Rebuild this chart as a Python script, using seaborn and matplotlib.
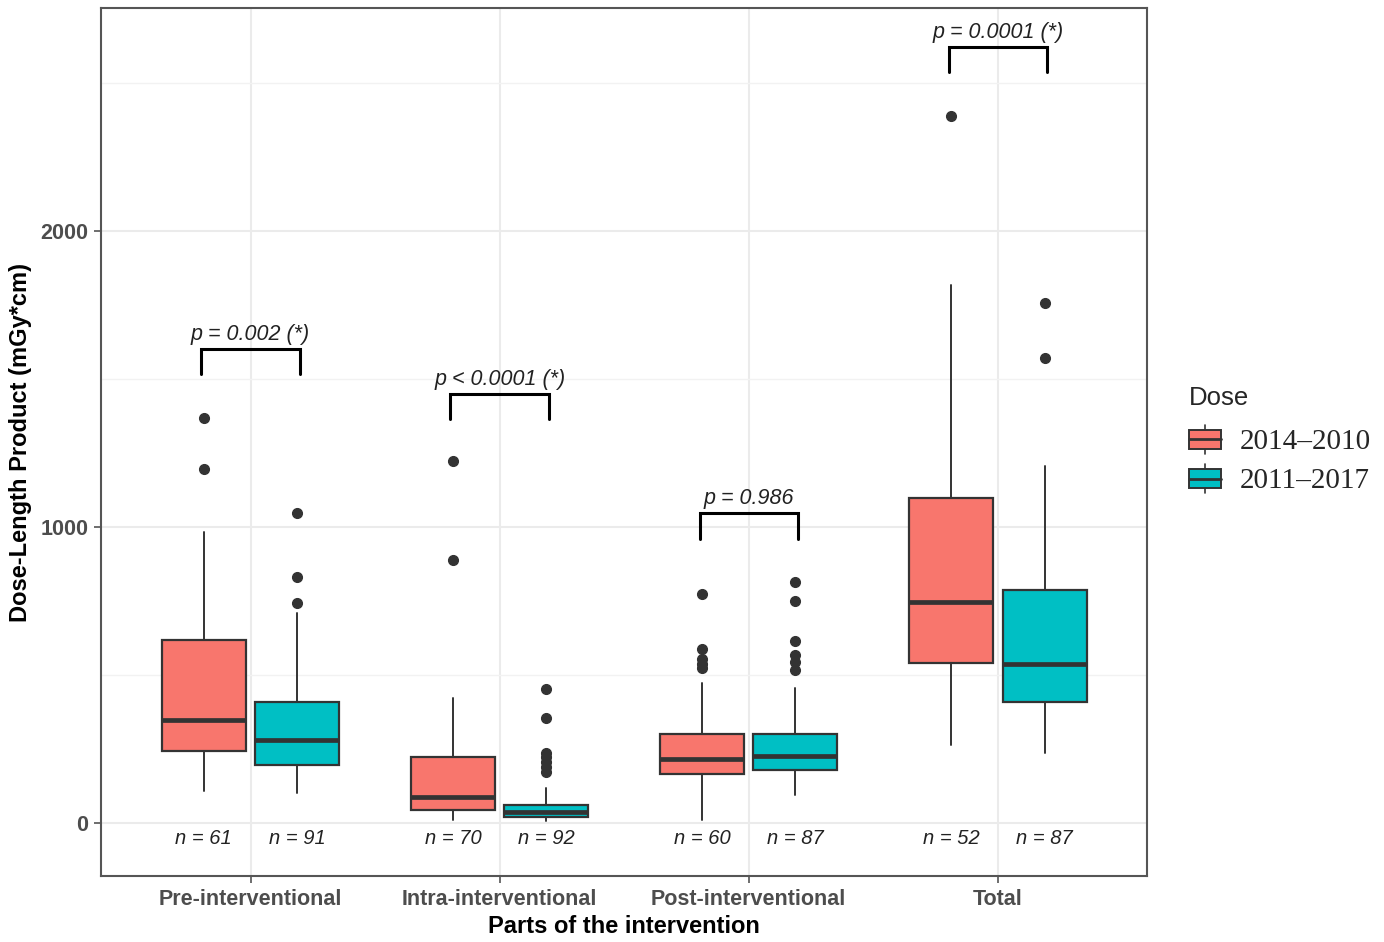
import matplotlib
matplotlib.use("Agg")
import matplotlib.pyplot as plt
import seaborn as sns
from matplotlib.legend_handler import HandlerBase
from matplotlib.patches import Rectangle, Patch
from matplotlib.lines import Line2D

# categories
parts = ["Pre-interventional", "Intra-interventional", "Post-interventional", "Total"]
doses = ["2014–2010", "2011–2017"]

# box summaries (mGy*cm), 2014-2010 group
lo_old = [108, 10, 8, 264]
q1_old = [243, 45, 166, 542]
med_old = [348, 87, 216, 748]
q3_old = [618, 224, 301, 1097]
hi_old = [985, 421, 472, 1818]
out_old = [[1368, 1196], [1223, 888], [773, 587, 553, 538, 524], [2390]]

# 2011-2017 group
lo_new = [100, 5, 95, 235]
q1_new = [195, 19, 177, 408]
med_new = [280, 38, 226, 537]
q3_new = [408, 61, 301, 787]
hi_new = [711, 117, 457, 1207]
out_new = [[1046, 832, 744], [451, 354, 236, 222, 206, 190, 172],
           [815, 750, 616, 568, 545, 517], [1758, 1570]]

n_old = [61, 70, 60, 52]
n_new = [91, 92, 87, 87]
p_labels = ["p = 0.002 (*)", "p < 0.0001 (*)", "p = 0.986", "p = 0.0001 (*)"]
bracket_y = [1601, 1451, 1046, 2622]

colors = {"2014–2010": "#F8766D", "2011–2017": "#00BFC4"}
edge = "#333333"

sns.set_theme(style="whitegrid")
plt.rcParams["font.family"] = ["Liberation Sans", "DejaVu Sans"]

fig = plt.figure(figsize=(13.84, 9.42), dpi=100)
ax = fig.add_axes([0.073, 0.07, 0.756, 0.9215])

dodge = 0.1875
width = 0.3375


def make_stats(lo, q1, med, q3, hi, out):
    return [dict(whislo=a, q1=b, med=c, q3=d, whishi=e, fliers=f)
            for a, b, c, d, e, f in zip(lo, q1, med, q3, hi, out)]


groups = {
    "2014–2010": (make_stats(lo_old, q1_old, med_old, q3_old, hi_old, out_old), -dodge),
    "2011–2017": (make_stats(lo_new, q1_new, med_new, q3_new, hi_new, out_new), dodge),
}

for dose, (stats, off) in groups.items():
    ax.bxp(stats, positions=[i + off for i in range(len(parts))], widths=width,
           patch_artist=True, showcaps=False,
           boxprops=dict(facecolor=colors[dose], edgecolor=edge, linewidth=1.6),
           medianprops=dict(color=edge, linewidth=3.4),
           whiskerprops=dict(color=edge, linewidth=1.4),
           flierprops=dict(marker="o", markerfacecolor=edge, markeredgecolor=edge,
                           markersize=7, linestyle="none"),
           zorder=3)

# sample sizes under each box
for i in range(len(parts)):
    for off, n in ((-dodge, n_old[i]), (dodge, n_new[i])):
        ax.text(i + off, -53, f"n = {n}", ha="center", va="center",
                style="italic", fontsize=14.5, color="#222222")

# significance brackets
for i, (lab, yb) in enumerate(zip(p_labels, bracket_y)):
    x0, x1 = i - dodge - 0.01, i + dodge + 0.01
    ax.plot([x0, x0, x1, x1], [yb - 85, yb, yb, yb - 85], color="black", lw=2.2,
            solid_joinstyle="miter", zorder=4)
    ax.text(i, yb + 14, lab, ha="center", va="bottom", style="italic",
            fontsize=15.5, color="#222222")

ax.set_xlim(-0.6, 3.6)
ax.set_ylim(-180, 2755)
ax.set_xticks(range(len(parts)))
ax.set_xticklabels(parts)
ax.set_yticks([0, 1000, 2000])
ax.set_yticks([500, 1500, 2500], minor=True)

ax.grid(True, which="major", color="#EBEBEB", linewidth=1.5)
ax.grid(True, which="minor", axis="y", color="#F2F2F2", linewidth=1.0)
ax.set_axisbelow(True)
for s in ax.spines.values():
    s.set_color("#555555")
    s.set_linewidth(1.5)

ax.tick_params(axis="both", which="major", length=5, width=1.2, color="#555555",
               labelsize=15.5, labelcolor="#4D4D4D", pad=4, left=True, bottom=True)
ax.tick_params(axis="y", which="minor", length=0)
for lab in ax.get_xticklabels() + ax.get_yticklabels():
    lab.set_fontweight("bold")

ax.set_xlabel("Parts of the intervention", fontsize=17, fontweight="bold",
              color="black", labelpad=4)
ax.set_ylabel("Dose-Length Product (mGy*cm)", fontsize=17, fontweight="bold",
              color="black", labelpad=6)


class BoxKey(HandlerBase):
    def create_artists(self, legend, orig, xd, yd, w, h, fontsize, trans):
        x0, y0 = -xd, -yd
        cx = x0 + w / 2
        box = Rectangle((x0, y0 + h * 0.17), w, h * 0.66, facecolor=orig.get_facecolor(),
                        edgecolor=edge, lw=1.4, transform=trans)
        mid = Line2D([x0, x0 + w], [y0 + h / 2] * 2, color=edge, lw=2, transform=trans)
        top = Line2D([cx, cx], [y0 + h * 0.83, y0 + h], color=edge, lw=1.2, transform=trans)
        bot = Line2D([cx, cx], [y0, y0 + h * 0.17], color=edge, lw=1.2, transform=trans)
        return [bot, top, box, mid]


handles = [Patch(facecolor=colors[d], label=d) for d in doses]
leg = fig.legend(handles=handles, title="Dose", loc="upper left",
                 bbox_to_anchor=(0.8485, 0.606), frameon=False, borderpad=0,
                 handler_map={Patch: BoxKey()}, handlelength=1.1, handleheight=1.15,
                 handletextpad=0.65, labelspacing=0.3, alignment="left",
                 prop={"family": "Liberation Serif", "size": 21},
                 title_fontproperties={"family": "Liberation Sans", "size": 18.5})
leg._legend_box.sep = 11

fig.savefig("out.png", dpi=100)
